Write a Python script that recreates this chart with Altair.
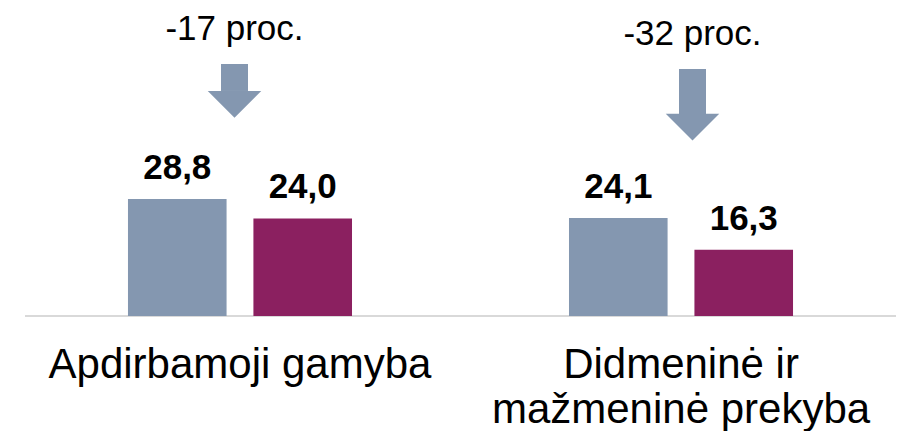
import altair as alt
import pandas as pd

categories = ["Apdirbamoji gamyba", "Didmeninė ir mažmeninė prekyba"]
category_labels = ["Apdirbamoji gamyba", "Didmeninė ir\nmažmeninė prekyba"]
series = ["Prieš", "Po"]
values_before = [28.8, 24.1]
values_after = [24.0, 16.3]
changes = ["-17 proc.", "-32 proc."]
colors = ["#8497B0", "#8B2060"]

# arrow/annotation styling per group (pixel offsets relative to the taller bar)
arrow_styles = [
    {"dx": -5.5, "shaft_top": -135, "head_top": -108, "head_mid": -94.5, "text": -159},
    {"dx": 11.5, "shaft_top": -149, "head_top": -104, "head_mid": -91, "text": -173},
]

rows = []
for i, c in enumerate(categories):
    rows.append({"category": c, "series": series[0], "value": values_before[i]})
    rows.append({"category": c, "series": series[1], "value": values_after[i]})
bars_df = pd.DataFrame(rows)
ann_df = pd.DataFrame({
    "category": categories,
    "label": category_labels,
    "change": changes,
    "top": [max(a, b) for a, b in zip(values_before, values_after)],
})

FONT = "Liberation Sans"
ARROW = "#8497B0"

x = alt.X("category:N", sort=categories, axis=None,
          scale=alt.Scale(paddingInner=0.492, paddingOuter=0.2335))
xoff = alt.XOffset("series:N", sort=series,
                   scale=alt.Scale(paddingInner=0.214, paddingOuter=0))
y_scale = alt.Scale(domain=[-26.3, 75.77], nice=False)

base_ann = alt.Chart(ann_df).transform_calculate(zero="0")

rule = base_ann.mark_rule(color="#D9D9D9", strokeWidth=2).encode(
    y=alt.Y("zero:Q", scale=y_scale, axis=None)
)

bars = alt.Chart(bars_df).mark_bar().encode(
    x=x,
    xOffset=xoff,
    y=alt.Y("value:Q", scale=y_scale, axis=None),
    color=alt.Color("series:N", scale=alt.Scale(domain=series, range=colors), legend=None),
)

value_text = alt.Chart(bars_df).transform_calculate(
    txt="replace(format(datum.value, '.1f'), '.', ',')"
).mark_text(fontSize=35, fontWeight="bold", font=FONT, baseline="alphabetic",
            dy=-20, color="black").encode(
    x=x, xOffset=xoff, y=alt.Y("value:Q", scale=y_scale, axis=None), text="txt:N"
)

ann_layers = []
for i, c in enumerate(categories):
    st = arrow_styles[i]
    sub = alt.Chart(ann_df).transform_filter(alt.datum.category == c)
    shaft = sub.mark_bar(width=27, color=ARROW, xOffset=st["dx"],
                         yOffset=st["shaft_top"], y2Offset=st["head_top"]).encode(
        x=x, y=alt.Y("top:Q", scale=y_scale, axis=None), y2=alt.Y2("top")
    )
    head = sub.mark_point(
        shape="M-1,-0.5L1,-0.5L0,0.5Z", size=2860, filled=True, opacity=1,
        color=ARROW, strokeWidth=0, xOffset=st["dx"], yOffset=st["head_mid"]
    ).encode(x=x, y=alt.Y("top:Q", scale=y_scale, axis=None))
    txt = sub.mark_text(
        fontSize=35, font=FONT, baseline="alphabetic", dx=st["dx"], dy=st["text"],
        color="black"
    ).encode(x=x, y=alt.Y("top:Q", scale=y_scale, axis=None), text="change:N")
    ann_layers += [shaft, head, txt]

cat_text = base_ann.mark_text(
    fontSize=42, font=FONT, baseline="alphabetic", dy=62, lineBreak="\n",
    lineHeight=45, color="black"
).encode(x=x, y=alt.Y("zero:Q", scale=y_scale, axis=None), text="label:N")

chart = alt.layer(rule, bars, value_text, *ann_layers, cat_text).properties(
    width=871, height=415,
    padding={"left": 17, "top": 0, "right": 0, "bottom": 8},
    autosize=alt.AutoSizeParams(type="none"),
).configure_view(stroke=None)

chart.save("out.html", embed_options={"renderer": "svg", "actions": False})
